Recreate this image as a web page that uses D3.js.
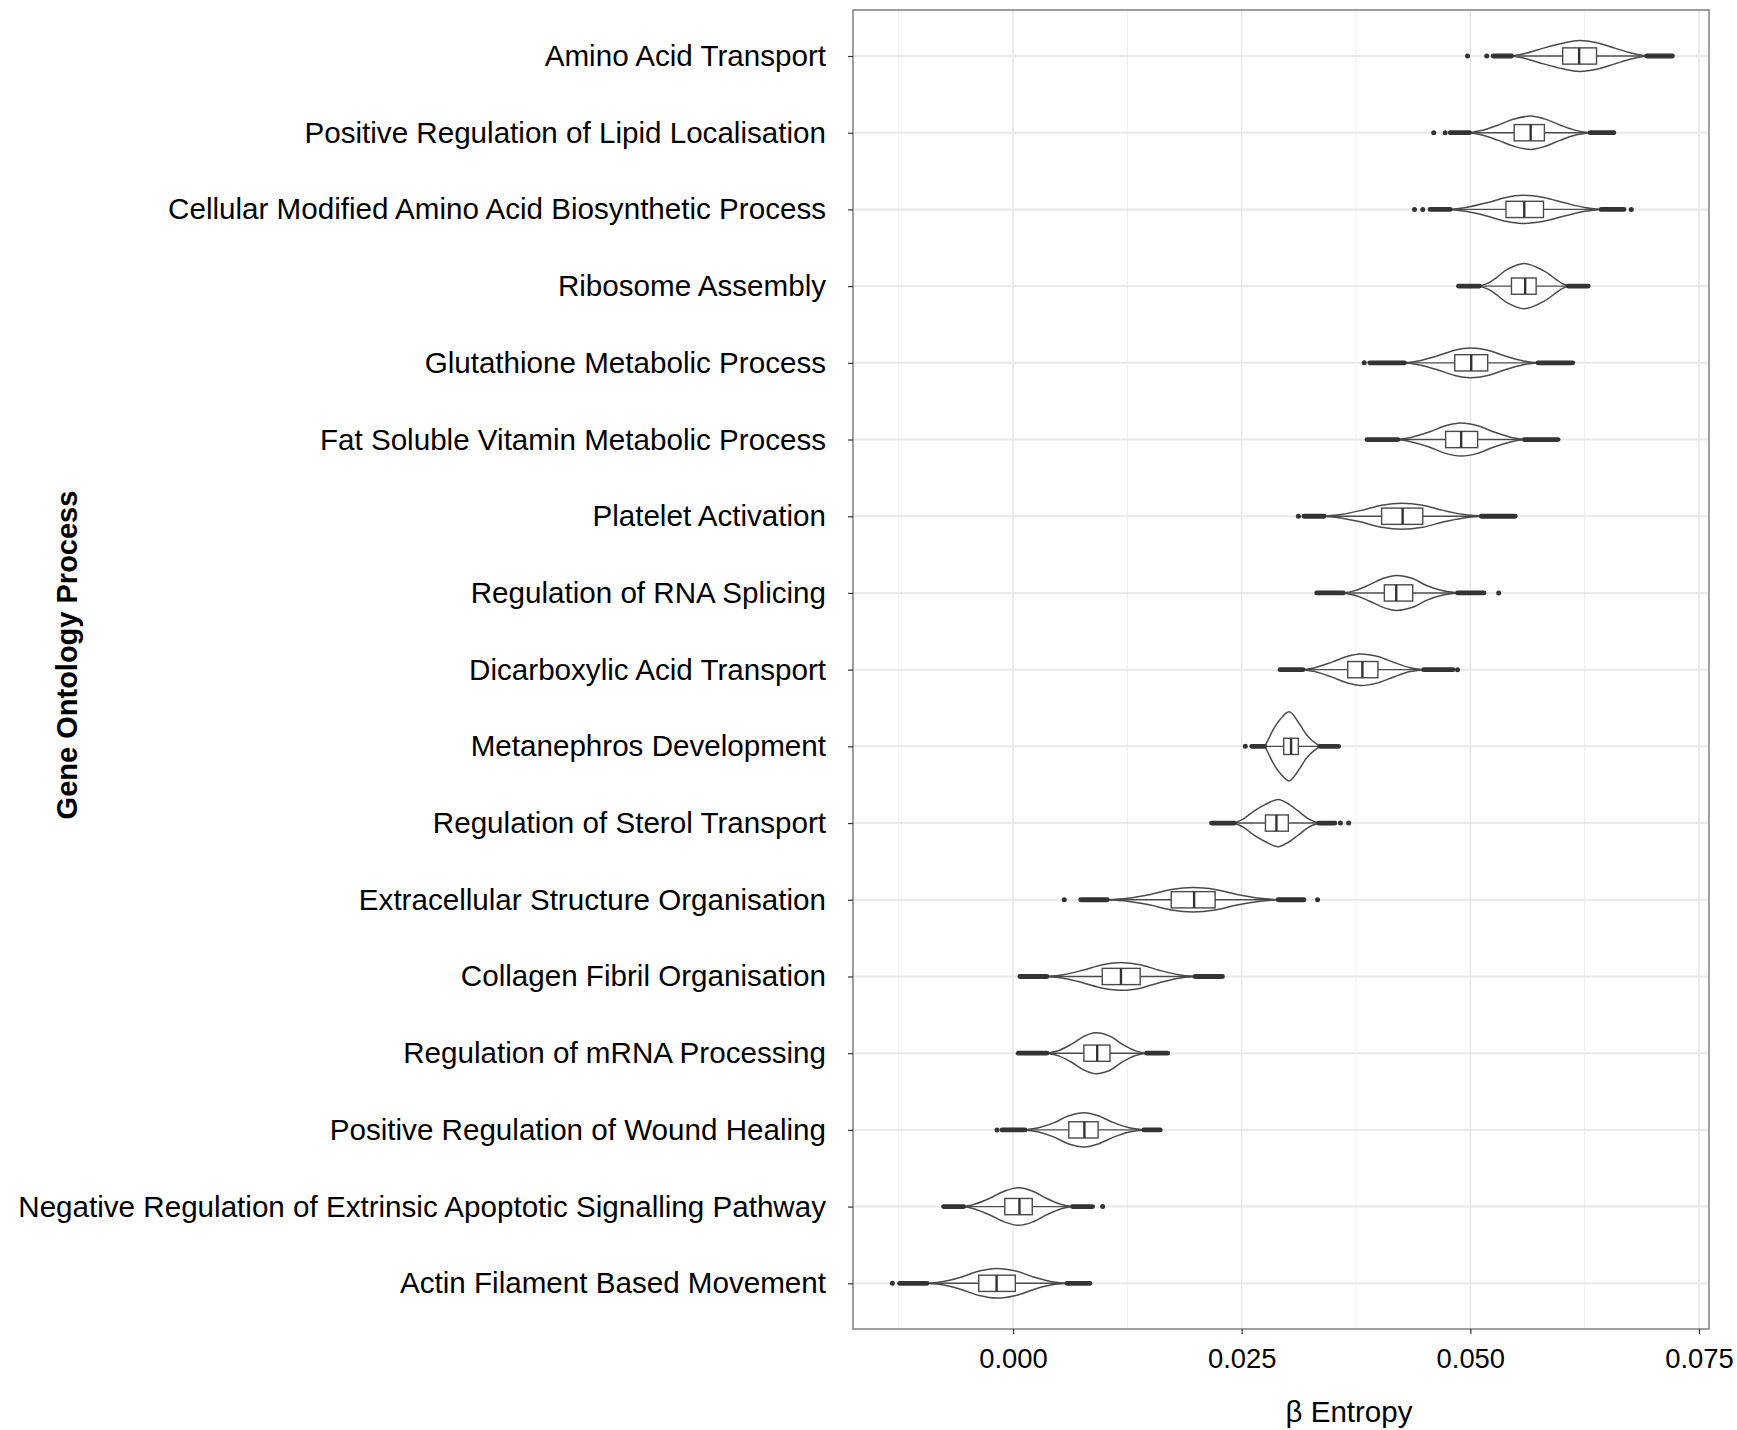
<!DOCTYPE html>
<html>
<head>
<meta charset="utf-8">
<script src="https://cdn.jsdelivr.net/npm/d3@7"></script>
<style>
  body { margin: 0; background: #fff; }
  text { font-family: "Liberation Sans", Arial, sans-serif; }
</style>
</head>
<body>
<svg id="chart" width="1737" height="1430"></svg>
<script>
// Gene Ontology processes, top to bottom
const categories = [
  "Amino Acid Transport",
  "Positive Regulation of Lipid Localisation",
  "Cellular Modified Amino Acid Biosynthetic Process",
  "Ribosome Assembly",
  "Glutathione Metabolic Process",
  "Fat Soluble Vitamin Metabolic Process",
  "Platelet Activation",
  "Regulation of RNA Splicing",
  "Dicarboxylic Acid Transport",
  "Metanephros Development",
  "Regulation of Sterol Transport",
  "Extracellular Structure Organisation",
  "Collagen Fibril Organisation",
  "Regulation of mRNA Processing",
  "Positive Regulation of Wound Healing",
  "Negative Regulation of Extrinsic Apoptotic Signalling Pathway",
  "Actin Filament Based Movement"
];

// Box plot summaries of beta entropy
const q1 =        [0.0601, 0.0548, 0.0539, 0.0545, 0.0483, 0.0473, 0.0403, 0.0406, 0.0366, 0.0296, 0.0276, 0.0173, 0.00975, 0.00775, 0.0061, -0.0009, -0.00375];
const medians =   [0.0619, 0.0566, 0.0559, 0.0560, 0.0501, 0.0490, 0.0426, 0.0419, 0.0382, 0.0304, 0.0288, 0.0198, 0.0118, 0.0092, 0.0078, 0.0007, -0.0018];
const q3 =        [0.0638, 0.0581, 0.0580, 0.0572, 0.0519, 0.0508, 0.0448, 0.0437, 0.0399, 0.0312, 0.0301, 0.0221, 0.0139, 0.0106, 0.0093, 0.0021, 0.00025];
const whiskerLo = [0.0545, 0.0499, 0.0478, 0.0510, 0.0428, 0.0421, 0.0340, 0.0361, 0.0317, 0.0275, 0.0242, 0.0103, 0.0037, 0.0037, 0.0013, -0.0054, -0.0094];
const whiskerHi = [0.0693, 0.0631, 0.0643, 0.0607, 0.0574, 0.0559, 0.0512, 0.0486, 0.0449, 0.03355, 0.0334, 0.0290, 0.0199, 0.0146, 0.0143, 0.0065, 0.0059];

// Densely packed outliers, as [from, to] runs
const outlierRuns = [
  [[0.0525, 0.0545], [0.0693, 0.0721]],
  [[0.0478, 0.0499], [0.0631, 0.0657]],
  [[0.0456, 0.0478], [0.0643, 0.0668]],
  [[0.0487, 0.0510], [0.0607, 0.0629]],
  [[0.0390, 0.0428], [0.0574, 0.0612]],
  [[0.0387, 0.0421], [0.0559, 0.0596]],
  [[0.0318, 0.0340], [0.0512, 0.0549]],
  [[0.0332, 0.0361], [0.0486, 0.0515]],
  [[0.0292, 0.0317], [0.0449, 0.0481]],
  [[0.0261, 0.0275], [0.03355, 0.0356]],
  [[0.0217, 0.0242], [0.0334, 0.0352]],
  [[0.0074, 0.0103], [0.0290, 0.0318]],
  [[0.00075, 0.0037], [0.0199, 0.0229]],
  [[0.00056, 0.0037], [0.0146, 0.0169]],
  [[-0.0012, 0.0013], [0.0143, 0.0161]],
  [[-0.0076, -0.0054], [0.0065, 0.0087]],
  [[-0.0124, -0.0094], [0.0059, 0.0084]]
];

// Isolated outliers
const outlierPoints = [
  [0.0497, 0.0518],
  [0.0460, 0.04725],
  [0.0439, 0.0448, 0.0676],
  [],
  [0.0384],
  [],
  [0.0312],
  [0.0531],
  [0.0486],
  [0.0254],
  [0.0358, 0.0367],
  [0.0056, 0.0333],
  [],
  [],
  [-0.00175],
  [0.0098],
  [-0.0132]
];

// Kernel density profiles: [beta entropy, density]
const densities = [
  [[0.0545,0],[0.0560,23],[0.0580,74],[0.0601,120],[0.0619,145],[0.0638,125],[0.0658,74],[0.0676,28],[0.0693,0]],
  [[0.0499,0],[0.0512,20],[0.0530,70],[0.0548,128],[0.0566,157],[0.0581,130],[0.0598,72],[0.0615,22],[0.0631,0]],
  [[0.0478,0],[0.0495,18],[0.0518,62],[0.0539,112],[0.0557,132],[0.0580,112],[0.0603,62],[0.0625,18],[0.0643,0]],
  [[0.0510,0],[0.0520,30],[0.0529,83],[0.0540,155],[0.0559,213],[0.0580,145],[0.0594,62],[0.0601,22],[0.0607,0]],
  [[0.0428,0],[0.0443,18],[0.0463,62],[0.0483,118],[0.0500,139],[0.0519,118],[0.0539,62],[0.0558,18],[0.0574,0]],
  [[0.0421,0],[0.0435,20],[0.0455,70],[0.0473,130],[0.0490,155],[0.0508,130],[0.0526,70],[0.0545,20],[0.0559,0]],
  [[0.0340,0],[0.0358,16],[0.0381,55],[0.0403,104],[0.0425,123],[0.0448,104],[0.0470,55],[0.0493,16],[0.0512,0]],
  [[0.0361,0],[0.0374,22],[0.0390,78],[0.0406,140],[0.0419,164],[0.0437,135],[0.0452,70],[0.0470,20],[0.0486,0]],
  [[0.0317,0],[0.0330,18],[0.0348,68],[0.0366,126],[0.0380,148],[0.0399,124],[0.0417,66],[0.0434,18],[0.0449,0]],
  [[0.02754,0],[0.0279,62],[0.02845,157],[0.02918,250],[0.0302,324],[0.03137,204],[0.0320,120],[0.03246,74],[0.03355,0]],
  [[0.0242,0],[0.0252,40],[0.0263,110],[0.0276,175],[0.0290,222],[0.0301,180],[0.0312,112],[0.0323,40],[0.0334,0]],
  [[0.0103,0],[0.0125,14],[0.0150,50],[0.0173,96],[0.0197,114],[0.0221,96],[0.0245,50],[0.0270,14],[0.0290,0]],
  [[0.0037,0],[0.0055,16],[0.0076,58],[0.0098,110],[0.0120,130],[0.0139,110],[0.0160,58],[0.0181,16],[0.0199,0]],
  [[0.0037,0],[0.0050,25],[0.0064,85],[0.0078,160],[0.0090,192],[0.0106,160],[0.0120,80],[0.0134,22],[0.0146,0]],
  [[0.0013,0],[0.0028,20],[0.0045,68],[0.0061,132],[0.0078,160],[0.0093,132],[0.0110,68],[0.0127,20],[0.0143,0]],
  [[-0.0054,0],[-0.0042,22],[-0.0026,76],[-0.0009,146],[0.0006,176],[0.0021,146],[0.0037,76],[0.0052,22],[0.0065,0]],
  [[-0.0094,0],[-0.0076,17],[-0.0056,60],[-0.0037,115],[-0.0018,139],[0.0003,115],[0.0022,60],[0.0041,17],[0.0059,0]]
];

const xMajorTicks = [0, 0.025, 0.05, 0.075];
const xMinorTicks = [-0.0125, 0.0125, 0.0375, 0.0625];
const xTitle = "β Entropy";
const yTitle = "Gene Ontology Process";

// ---- layout ----
const W = 1737, H = 1430;
const panel = { left: 853, right: 1709, top: 10, bottom: 1329 };

const svg = d3.select("#chart");
svg.append("rect").attr("width", W).attr("height", H).attr("fill", "#fff");

const x = d3.scaleLinear().domain([-0.0175, 0.0761]).range([panel.left, panel.right]);
const y = d3.scalePoint().domain(categories).range([56, 1283.3]);
const step = y.step();
const maxDensity = d3.max(densities.flat(), d => d[1]);
const halfWidth = d3.scaleLinear().domain([0, maxDensity]).range([0, step * 0.45]);
const boxHalf = step * 0.106;

// grid
const grid = svg.append("g");
grid.selectAll("line.minor").data(xMinorTicks).join("line")
  .attr("x1", d => x(d)).attr("x2", d => x(d))
  .attr("y1", panel.top).attr("y2", panel.bottom)
  .attr("stroke", "#ededed").attr("stroke-width", 1);
grid.selectAll("line.majorx").data(xMajorTicks).join("line")
  .attr("x1", d => x(d)).attr("x2", d => x(d))
  .attr("y1", panel.top).attr("y2", panel.bottom)
  .attr("stroke", "#e6e6e6").attr("stroke-width", 1.4);
grid.selectAll("line.majory").data(categories).join("line")
  .attr("x1", panel.left).attr("x2", panel.right)
  .attr("y1", d => y(d)).attr("y2", d => y(d))
  .attr("stroke", "#e8e8e8").attr("stroke-width", 2);

// violins
const marks = svg.append("g");
categories.forEach((cat, i) => {
  const cy = y(cat);
  const area = d3.area()
    .x(d => x(d[0]))
    .y0(d => cy - halfWidth(d[1]))
    .y1(d => cy + halfWidth(d[1]))
    .curve(d3.curveCatmullRom.alpha(0.5));
  marks.append("path")
    .attr("d", area(densities[i]))
    .attr("fill", "#fff")
    .attr("stroke", "#4a4a4a")
    .attr("stroke-width", 1.5);
});

// box plots
categories.forEach((cat, i) => {
  const cy = y(cat);
  const g = marks.append("g");
  g.append("line")
    .attr("x1", x(whiskerLo[i])).attr("x2", x(whiskerHi[i]))
    .attr("y1", cy).attr("y2", cy)
    .attr("stroke", "#4a4a4a").attr("stroke-width", 1.4);
  g.append("rect")
    .attr("x", x(q1[i])).attr("width", x(q3[i]) - x(q1[i]))
    .attr("y", cy - boxHalf).attr("height", boxHalf * 2)
    .attr("fill", "#fff").attr("stroke", "#4a4a4a").attr("stroke-width", 1.4);
  g.append("line")
    .attr("x1", x(medians[i])).attr("x2", x(medians[i]))
    .attr("y1", cy - boxHalf).attr("y2", cy + boxHalf)
    .attr("stroke", "#333").attr("stroke-width", 2.4);
  g.selectAll("line.run").data(outlierRuns[i]).join("line")
    .attr("x1", d => x(d[0])).attr("x2", d => x(d[1]))
    .attr("y1", cy).attr("y2", cy)
    .attr("stroke", "#333").attr("stroke-width", 4.8)
    .attr("stroke-linecap", "round");
  g.selectAll("circle").data(outlierPoints[i]).join("circle")
    .attr("cx", d => x(d)).attr("cy", cy).attr("r", 2.5)
    .attr("fill", "#333");
});

// panel border
svg.append("rect")
  .attr("x", panel.left).attr("y", panel.top)
  .attr("width", panel.right - panel.left).attr("height", panel.bottom - panel.top)
  .attr("fill", "none").attr("stroke", "#808080").attr("stroke-width", 1.5);

// axes
const yAxis = svg.append("g")
  .attr("transform", `translate(${panel.left},0)`)
  .call(d3.axisLeft(y).tickSize(5).tickPadding(22));
yAxis.select(".domain").remove();
yAxis.selectAll(".tick line").attr("stroke", "#333").attr("stroke-width", 1.2);
yAxis.selectAll(".tick text")
  .attr("fill", "#000").style("font-size", "29.6px")
  .attr("font-family", "Liberation Sans, Arial, sans-serif");

const xAxis = svg.append("g")
  .attr("transform", `translate(0,${panel.bottom})`)
  .call(d3.axisBottom(x).tickValues(xMajorTicks).tickFormat(d3.format(".3f")).tickSize(5).tickPadding(15));
xAxis.select(".domain").remove();
xAxis.selectAll(".tick line").attr("stroke", "#333").attr("stroke-width", 1.2);
xAxis.selectAll(".tick text")
  .attr("fill", "#000").style("font-size", "27.4px")
  .attr("font-family", "Liberation Sans, Arial, sans-serif");

// titles
svg.append("text")
  .attr("x", 1349).attr("y", 1422)
  .attr("text-anchor", "middle")
  .style("font-size", "29.5px").attr("fill", "#000")
  .text(xTitle);

svg.append("text")
  .attr("transform", "translate(77,655) rotate(-90)")
  .attr("text-anchor", "middle")
  .style("font-size", "29px").style("font-weight", "bold").attr("fill", "#000")
  .text(yTitle);
</script>
</body>
</html>
